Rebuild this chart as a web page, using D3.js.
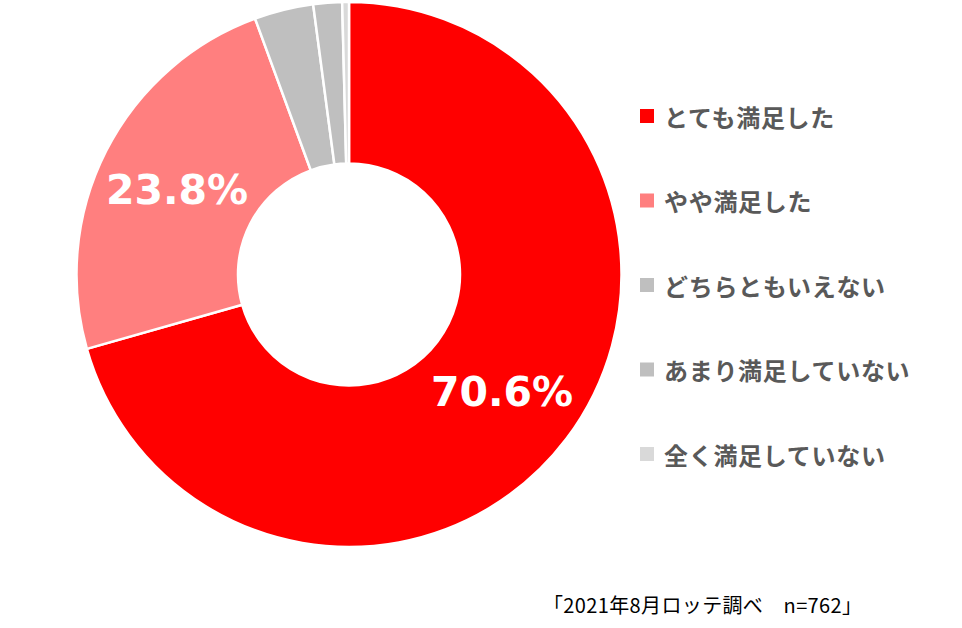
<!DOCTYPE html>
<html><head><meta charset="utf-8">
<script src="https://cdn.jsdelivr.net/npm/d3@7"></script>
<style>html,body{margin:0;padding:0;background:#fff;}</style>
</head><body>
<svg id="chart" width="962" height="628"></svg>
<script>
const categories = ["とても満足した","やや満足した","どちらともいえない","あまり満足していない","全く満足していない"];
const values = [70.6, 23.8, 3.5, 1.7, 0.4];
const colors = ["#FF0000","#FF7F7F","#BFBFBF","#BFBFBF","#D9D9D9"];
const shownLabels = ["70.6%","23.8%","","",""];
const footnote = "「2021年8月ロッテ調べ　n=762」";

const svg = d3.select("#chart");
const cx = 349, cy = 274.5, R = 272.5, r = 111;
const data = categories.map((c,i)=>({cat:c, value:values[i], color:colors[i], label:shownLabels[i]}));
const pie = d3.pie().sort(null).value(d=>d.value);
const arc = d3.arc().innerRadius(r).outerRadius(R);
const arcs = pie(data);
const g = svg.append("g").attr("transform",`translate(${cx},${cy})`);
g.selectAll("path").data(arcs).join("path")
  .attr("d",arc).attr("fill",d=>d.data.color)
  .attr("stroke","#fff").attr("stroke-width",2.5).attr("stroke-linejoin","round");

const labelPos = [[153,117],[-172,-85]];
g.selectAll("text.val").data(arcs.filter(d=>d.data.label)).join("text")
  .attr("class","val")
  .attr("x",(d,i)=>labelPos[i][0]).attr("y",(d,i)=>labelPos[i][1])
  .attr("text-anchor","middle").attr("dominant-baseline","central")
  .attr("fill","#fff").attr("font-family","'DejaVu Sans', sans-serif")
  .attr("font-weight","bold").attr("font-size",41)
  .text(d=>d.data.label);

const leg = svg.append("g");
const legY = d3.scalePoint().domain(categories).range([116,454]);
const items = leg.selectAll("g").data(data).join("g")
  .attr("transform",d=>`translate(640,${legY(d.cat)})`);
items.append("rect").attr("x",0).attr("y",-7).attr("width",14).attr("height",14).attr("fill",d=>d.color);
items.append("text").attr("x",24).attr("y",0).attr("dominant-baseline","central")
  .attr("fill","#595959").attr("font-family","'Noto Sans CJK JP', sans-serif")
  .attr("font-weight","bold").attr("font-size",24).attr("letter-spacing",0.7).text(d=>d.cat);

svg.append("text").attr("x",543).attr("y",604).attr("dominant-baseline","central")
  .attr("fill","#000").attr("font-family","'Noto Sans CJK JP', sans-serif")
  .attr("font-size",20).attr("textLength",319).attr("lengthAdjust","spacing").text(footnote);
</script>
</body></html>
